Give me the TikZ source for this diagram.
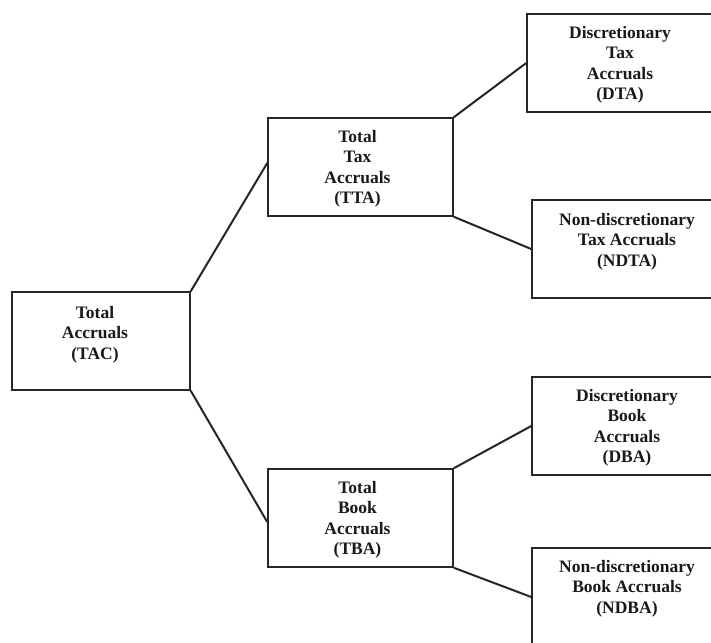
\documentclass[tikz,border=0pt]{standalone}
\usepackage{fontspec}
\setmainfont{Liberation Serif}
\begin{document}
\begin{tikzpicture}[x=1pt,y=-1pt,
  box/.style={draw=black!85, line width=1.5pt, inner sep=0pt, minimum height=98pt},
  lbl/.style={anchor=north, inner sep=0pt, align=center,
    font=\fontsize{17.5}{20.5}\selectfont\bfseries, text=black!90},
  link/.style={draw=black!85, line width=2pt}]
\clip (0,0) rectangle (711,642);
\fill[white] (0,0) rectangle (711,642);
% boxes
\node[box, minimum width=178pt] (TAC) at (101,341) {};
\node[box, minimum width=185pt] (TTA) at (360.5,167) {};
\node[box, minimum width=185pt] (TBA) at (360.5,518) {};
\node[box, minimum width=193pt] (DTA) at (623.5,63) {};
\node[box, minimum width=188pt] (NDTA) at (626,249) {};
\node[box, minimum width=188pt] (DBA) at (626,426) {};
\node[box, minimum width=188pt] (NDBA) at (626,597) {};
% texts
\node[lbl] (tTAC) at (95,306) {Total\\Accruals\\(TAC)};
\node[lbl] (tTTA) at (357.5,130) {Total\\Tax\\Accruals\\(TTA)};
\node[lbl] (tTBA) at (357.5,481) {Total\\Book\\Accruals\\(TBA)};
\node[lbl] (tDTA) at (620,26) {Discretionary\\Tax\\Accruals\\(DTA)};
\node[lbl] (tNDTA) at (627,213) {Non-discretionary\\Tax Accruals\\(NDTA)};
\node[lbl] (tDBA) at (627,389) {Discretionary\\Book\\Accruals\\(DBA)};
\node[lbl] (tNDBA) at (627,560) {Non-discretionary\\Book Accruals\\(NDBA)};
% connectors
\draw[link] (TAC.north east) -- ([yshift=4pt]TTA.west);
\draw[link] (TAC.south east) -- ([yshift=-4pt]TBA.west);
\draw[link] (TTA.north east) -- (DTA.west);
\draw[link] (TTA.south east) -- (NDTA.west);
\draw[link] (TBA.north east) -- (DBA.west);
\draw[link] (TBA.south east) -- (NDBA.west);
\end{tikzpicture}
\end{document}
